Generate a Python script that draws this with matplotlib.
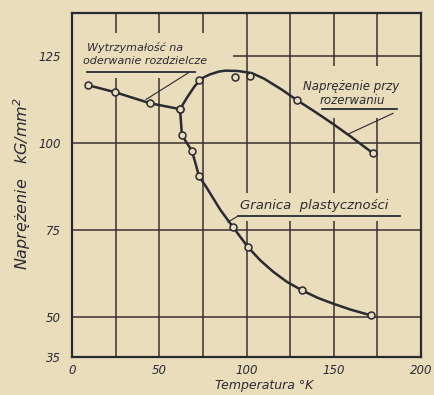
import matplotlib
matplotlib.use("Agg")
import matplotlib.pyplot as plt
from matplotlib.patches import Rectangle

# --- data ------------------------------------------------------------------
# brittle (cleavage) strength, straight segments between measured points
cleave_T = [9.2, 24.6, 44.7, 61.9]
cleave_S = [116.7, 114.7, 111.5, 109.8]

# yield point: measured points and traced curve
yield_T = [61.9, 63.0, 68.8, 72.8, 92.3, 100.9, 131.8, 171.3]
yield_S = [109.8, 102.3, 97.7, 90.5, 75.8, 70.0, 57.6, 50.4]
yield_curve_T = [61.9, 63.0, 68.8, 72.8, 77.4, 85.0, 92.3, 100.9, 108.0, 115.2,
                 123.0, 131.8, 141.0, 150.0, 160.0, 171.3]
yield_curve_S = [109.8, 102.3, 97.7, 90.5, 87.0, 80.8, 75.8, 70.0, 66.2, 63.0,
                 60.1, 57.6, 55.4, 53.7, 52.0, 50.4]

# fracture stress: measured points and traced curve
frac_T = [72.8, 93.4, 102.0, 128.9, 172.5]
frac_S = [118.2, 119.0, 119.3, 112.4, 97.1]
frac_curve_T = [61.9, 66.0, 70.0, 74.0, 79.0, 84.0, 88.0, 95.0, 103.0, 110.0,
                120.0, 128.9, 140.0, 150.0, 160.0, 172.5]
frac_curve_S = [109.8, 113.2, 116.2, 118.6, 119.8, 120.6, 120.9, 120.8, 120.2,
                118.6, 115.5, 112.4, 108.8, 105.4, 101.8, 97.1]

x_ticks = [0, 50, 100, 150, 200]
y_ticks = [38.4, 50, 75, 100, 125]
y_tick_labels = ["35", "50", "75", "100", "125"]

# --- style --------------------------------------------------------------------
bg = "#EADDBB"
ink = "#2A2A32"
grid_ink = "#3A3030"
plt.rcParams["font.family"] = ["DejaVu Sans"]
plt.rcParams["font.style"] = "italic"

fig = plt.figure(figsize=(4.34, 3.95), dpi=100, facecolor=bg)
ax = fig.add_axes([72 / 434, 38 / 395, 349 / 434, 344 / 395], facecolor=bg)
ax.set_xlim(0, 200)
ax.set_ylim(38.4, 137.5)

for gx in [25, 50, 75, 100, 125, 150, 175]:
    ax.axvline(gx, color=grid_ink, lw=1.1, zorder=1)
for gy in [50, 75, 100, 125]:
    ax.axhline(gy, color=grid_ink, lw=1.1, zorder=1)

# blank areas behind the labels (grid broken there in the original)
for (x0, y0, w, h) in [(0.5, 118.9, 91.5, 12.8), (130, 107.2, 63, 15.0),
                       (95, 77.5, 94, 8.1)]:
    ax.add_patch(Rectangle((x0, y0), w, h, facecolor=bg, edgecolor="none",
                           zorder=2))

mk = dict(marker="o", ms=5, mfc=bg, mec=ink, mew=1.1, ls="none", zorder=5)
ax.plot(cleave_T, cleave_S, color=ink, lw=1.8, zorder=4)
ax.plot(cleave_T, cleave_S, **mk)
ax.plot(yield_curve_T, yield_curve_S, color=ink, lw=1.8, zorder=4)
ax.plot(yield_T, yield_S, **mk)
ax.plot(frac_curve_T, frac_curve_S, color=ink, lw=1.8, zorder=4)
ax.plot(frac_T, frac_S, **mk)

# labels with underline and leader
ax.text(8.6, 127.7, "Wytrzymałość na", color=ink, fontsize=8, zorder=6,
        va="center")
ax.text(6.3, 123.6, "oderwanie rozdzielcze", color=ink, fontsize=8, zorder=6,
        va="center")
ax.plot([8.6, 70.5], [120.5, 120.5], color=ink, lw=1.3, zorder=6)
ax.plot([66.5, 42.4], [120.2, 112.6], color=ink, lw=0.8, zorder=3)

ax.text(132.4, 116.4, "Naprężenie przy", color=ink, fontsize=8.5, zorder=6,
        va="center")
ax.text(142.1, 112.4, "rozerwaniu", color=ink, fontsize=8.5, zorder=6,
        va="center")
ax.plot([143.3, 186.2], [109.8, 109.8], color=ink, lw=1.3, zorder=6)
ax.plot([184.0, 158.2], [108.6, 102.6], color=ink, lw=0.8, zorder=3)

ax.text(96.3, 82.1, "Granica  plastyczności", color=ink, fontsize=9.5,
        zorder=6, va="center")
ax.plot([95.1, 188.0], [79.0, 79.0], color=ink, lw=1.3, zorder=6)
ax.plot([95.1, 89.4], [79.0, 77.3], color=ink, lw=0.8, zorder=3)

ax.set_xticks(x_ticks)
ax.set_yticks(y_ticks)
ax.set_yticklabels(y_tick_labels)
ax.tick_params(length=0, labelsize=8.5, colors=ink, pad=5)
ax.tick_params(axis="y", pad=8)
for s in ax.spines.values():
    s.set_color(ink)
    s.set_linewidth(1.6)
    s.set_zorder(7)

fig.text(22 / 434, 1 - 183 / 395, "Naprężenie   kG/mm$^2$", rotation=90,
         ha="center", va="center", fontsize=11.5, color=ink)
fig.text(264 / 434, 1 - 385 / 395, "Temperatura °K", ha="center",
         va="center", fontsize=9, color=ink)

fig.savefig("out.png", dpi=100, facecolor=bg)
